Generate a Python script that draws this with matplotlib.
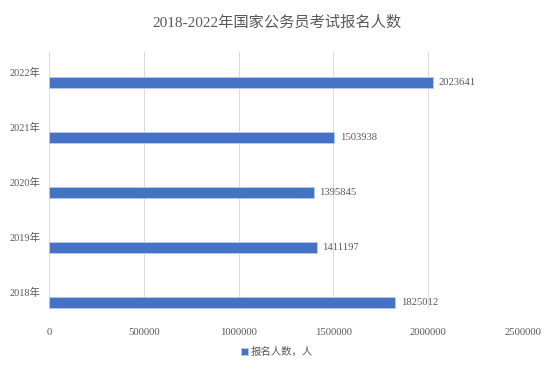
import matplotlib
matplotlib.use("Agg")
import matplotlib.pyplot as plt
import numpy as np

plt.rcParams['font.family'] = ['Liberation Serif', 'Noto Sans CJK SC', 'DejaVu Sans']

years = ['2018年', '2019年', '2020年', '2021年', '2022年']
counts = [1825012, 1411197, 1395845, 1503938, 2023641]
xticks = [0, 500000, 1000000, 1500000, 2000000, 2500000]
series_name = '报名人数，人'
title = '2018-2022年国家公务员考试报名人数'

grey = '#595959'
blue = '#4472C4'

fig = plt.figure(figsize=(5.54, 3.67), dpi=100)
ax = fig.add_axes([49/554, (367-309)/367, (523-49)/554, (309-52)/367])

y = np.arange(len(years))
ax.barh(y - 0.19, counts, height=0.2, color=blue, edgecolor='#BCCBEA', linewidth=0.6,
        label=series_name, zorder=3)

# data labels right of each bar
for yi, v in zip(y, counts):
    ax.text(v + 30000, yi - 0.19, str(v), va='center', ha='left', fontsize=7.7, color=grey)

ax.set_xlim(0, 2500000)
ax.set_ylim(-0.31, 4.36)
ax.set_xticks(xticks)
ax.set_xticklabels([str(t) for t in xticks], fontsize=7.7, color=grey)
ax.set_yticks(y)
ax.set_yticklabels(years, fontsize=7.5, color=grey)
ax.tick_params(axis='x', length=0, pad=14)
ax.tick_params(axis='y', length=0, pad=6)
ax.grid(axis='x', color='#DDDDDD', linewidth=0.8, zorder=0)
for s in ax.spines.values():
    s.set_visible(False)

fig.text(0.5, 1 - 22/367, title, ha='center', va='center', fontsize=11, color=grey)

leg = fig.legend(loc='center', bbox_to_anchor=(0.5, 1 - 352/367), frameon=False,
                 fontsize=7.5, handlelength=0.7, handleheight=0.7, handletextpad=0.3)
for t in leg.get_texts():
    t.set_color(grey)

fig.savefig('out.png', dpi=100)
